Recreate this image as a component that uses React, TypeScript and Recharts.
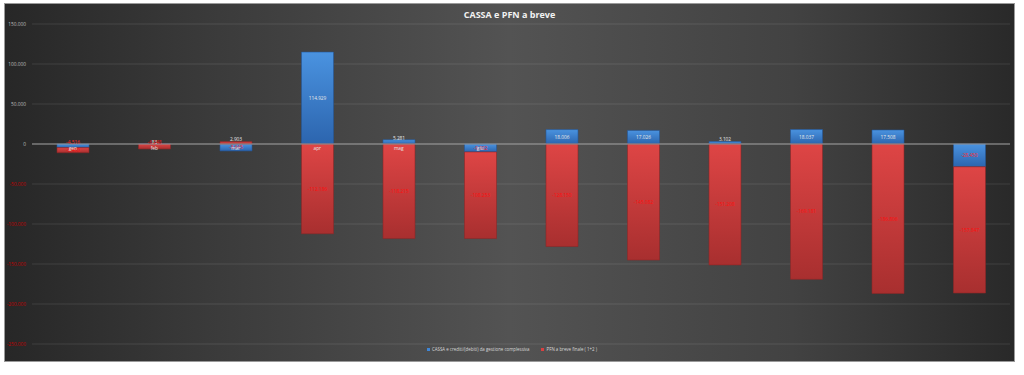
import React from 'react';
import { BarChart, Bar, XAxis, YAxis, CartesianGrid, Legend, LabelList, ReferenceLine, ReferenceDot } from 'recharts';

const months = ['gen', 'feb', 'mar', 'apr', 'mag', 'giu', 'lug', 'ago', 'set', 'ott', 'nov', 'dic'];
const cassa = [-4516, 83, -8645, 114929, 5281, -9902, 18006, 17026, 3102, 18037, 17508, -28450];
const pfn = [-6400, -6248, 2903, -112186, -118215, -108253, -128150, -145082, -151208, -169181, -186806, -157847];
const yTicks = [150000, 100000, 50000, 0, -50000, -100000, -150000, -200000, -250000];
const shownMonthLabels = ['gen', 'feb', 'mar', 'apr', 'mag', 'giu'];
const title = 'CASSA e PFN a breve';
const seriesNames = ['CASSA e crediti/(debiti) da gestione complessiva', 'PFN a breve finale ( 1+2 )'];

const data = months.map((m, i) => ({ month: m, cassa: cassa[i], pfn: pfn[i] }));

const fmt = (v: number) => {
  const s = Math.abs(v).toString().replace(/\B(?=(\d{3})+(?!\d))/g, '.');
  return v < 0 ? '-' + s : s;
};

const FONT = '"Open Sans", "Liberation Sans", sans-serif';

const makeLabel = (posColor: string, negColor: string) => (props: any) => {
  const { x, y, width, height, value } = props;
  if (value === undefined || value === null) return null;
  const cx = x + width / 2;
  let cy = y + height / 2;
  // tiny bars: put the label just outside, as in the reference
  if (Math.abs(height) < 5) cy = Math.min(y, y + height) - 2;
  return (
    <text x={cx} y={cy} dy={1.8} textAnchor="middle" fontSize={4.8} fontFamily={FONT} fill={value < 0 ? negColor : posColor}>
      {fmt(value)}
    </text>
  );
};

const YTick = (props: any) => {
  const { x, y, payload } = props;
  const v = payload.value;
  return (
    <text x={x} y={y} dx={2} dy={2} textAnchor="end" fontSize={4.8} fontFamily={FONT} fill={v < 0 ? '#c00000' : '#bdbdbd'}>
      {fmt(v)}
    </text>
  );
};

const LegendContent = () => (
  <div style={{ display: 'flex', justifyContent: 'center', gap: 12, fontFamily: FONT, fontSize: 4.4, color: '#d8d8d8', lineHeight: '10px', paddingLeft: 10 }}>
    <span style={{ display: 'flex', alignItems: 'center', gap: 2 }}>
      <span style={{ width: 3, height: 3, background: '#3f86d6', display: 'inline-block' }} />
      {seriesNames[0]}
    </span>
    <span style={{ display: 'flex', alignItems: 'center', gap: 2 }}>
      <span style={{ width: 3, height: 3, background: '#d94040', display: 'inline-block' }} />
      {seriesNames[1]}
    </span>
  </div>
);

export default function App() {
  return (
    <div style={{ position: 'absolute', left: 0, top: 0, width: 1024, height: 375, background: '#fff' }}>
      <div
        style={{
          position: 'absolute',
          left: 4,
          top: 3,
          width: 1011,
          height: 359,
          boxSizing: 'border-box',
          border: '1px solid #9a9a9a',
          background: 'linear-gradient(to right, #272727 0%, #3a3a3a 20%, #535353 50%, #424242 78%, #292929 100%)',
        }}
      >
        <div
          style={{
            position: 'absolute',
            left: 0,
            right: 0,
            top: 4,
            textAlign: 'center',
            color: '#f2f2f2',
            fontFamily: FONT,
            fontWeight: 'bold',
            fontSize: 9,
          }}
        >
          {title}
        </div>
        <div style={{ position: 'absolute', left: -1, top: -1 }}>
          <BarChart
            width={1011}
            height={359}
            data={data}
            stackOffset="sign"
            margin={{ top: 21, right: 5, bottom: 8, left: 0 }}
            barSize={32}
          >
            <defs>
              <linearGradient id="blueGrad" x1="0" y1="0" x2="0" y2="1">
                <stop offset="0%" stopColor="#4a93e0" />
                <stop offset="100%" stopColor="#2c65ae" />
              </linearGradient>
              <linearGradient id="redGrad" x1="0" y1="0" x2="0" y2="1">
                <stop offset="0%" stopColor="#de4545" />
                <stop offset="100%" stopColor="#a82f2f" />
              </linearGradient>
            </defs>
            <CartesianGrid vertical={false} stroke="rgba(255,255,255,0.10)" />
            <XAxis dataKey="month" hide />
            <YAxis
              width={28}
              domain={[-250000, 150000]}
              ticks={yTicks}
              axisLine={false}
              tickLine={false}
              tick={<YTick />}
              tickMargin={2}
              interval={0}
            />
            <Bar dataKey="cassa" name={seriesNames[0]} stackId="a" fill="url(#blueGrad)" stroke="#24589a" strokeWidth={0.6} isAnimationActive={false}>
              <LabelList dataKey="cassa" content={makeLabel('#e8e8e8', '#ff2a2a')} />
            </Bar>
            <Bar dataKey="pfn" name={seriesNames[1]} stackId="a" fill="url(#redGrad)" stroke="#8e2626" strokeWidth={0.6} isAnimationActive={false}>
              <LabelList dataKey="pfn" content={makeLabel('#e8e8e8', '#ff0d0d')} />
            </Bar>
            <ReferenceLine y={0} stroke="#9c9c9c" strokeWidth={1} />
            {shownMonthLabels.map((m) => (
              <ReferenceDot
                key={m}
                x={m}
                y={0}
                r={0}
                fill="none"
                stroke="none"
                label={{ value: m, position: 'bottom', offset: 3, fill: '#e6e6e6', fontSize: 4.8, fontFamily: FONT }}
              />
            ))}
            <Legend verticalAlign="bottom" height={10} content={<LegendContent />} />
          </BarChart>
        </div>
      </div>
    </div>
  );
}
